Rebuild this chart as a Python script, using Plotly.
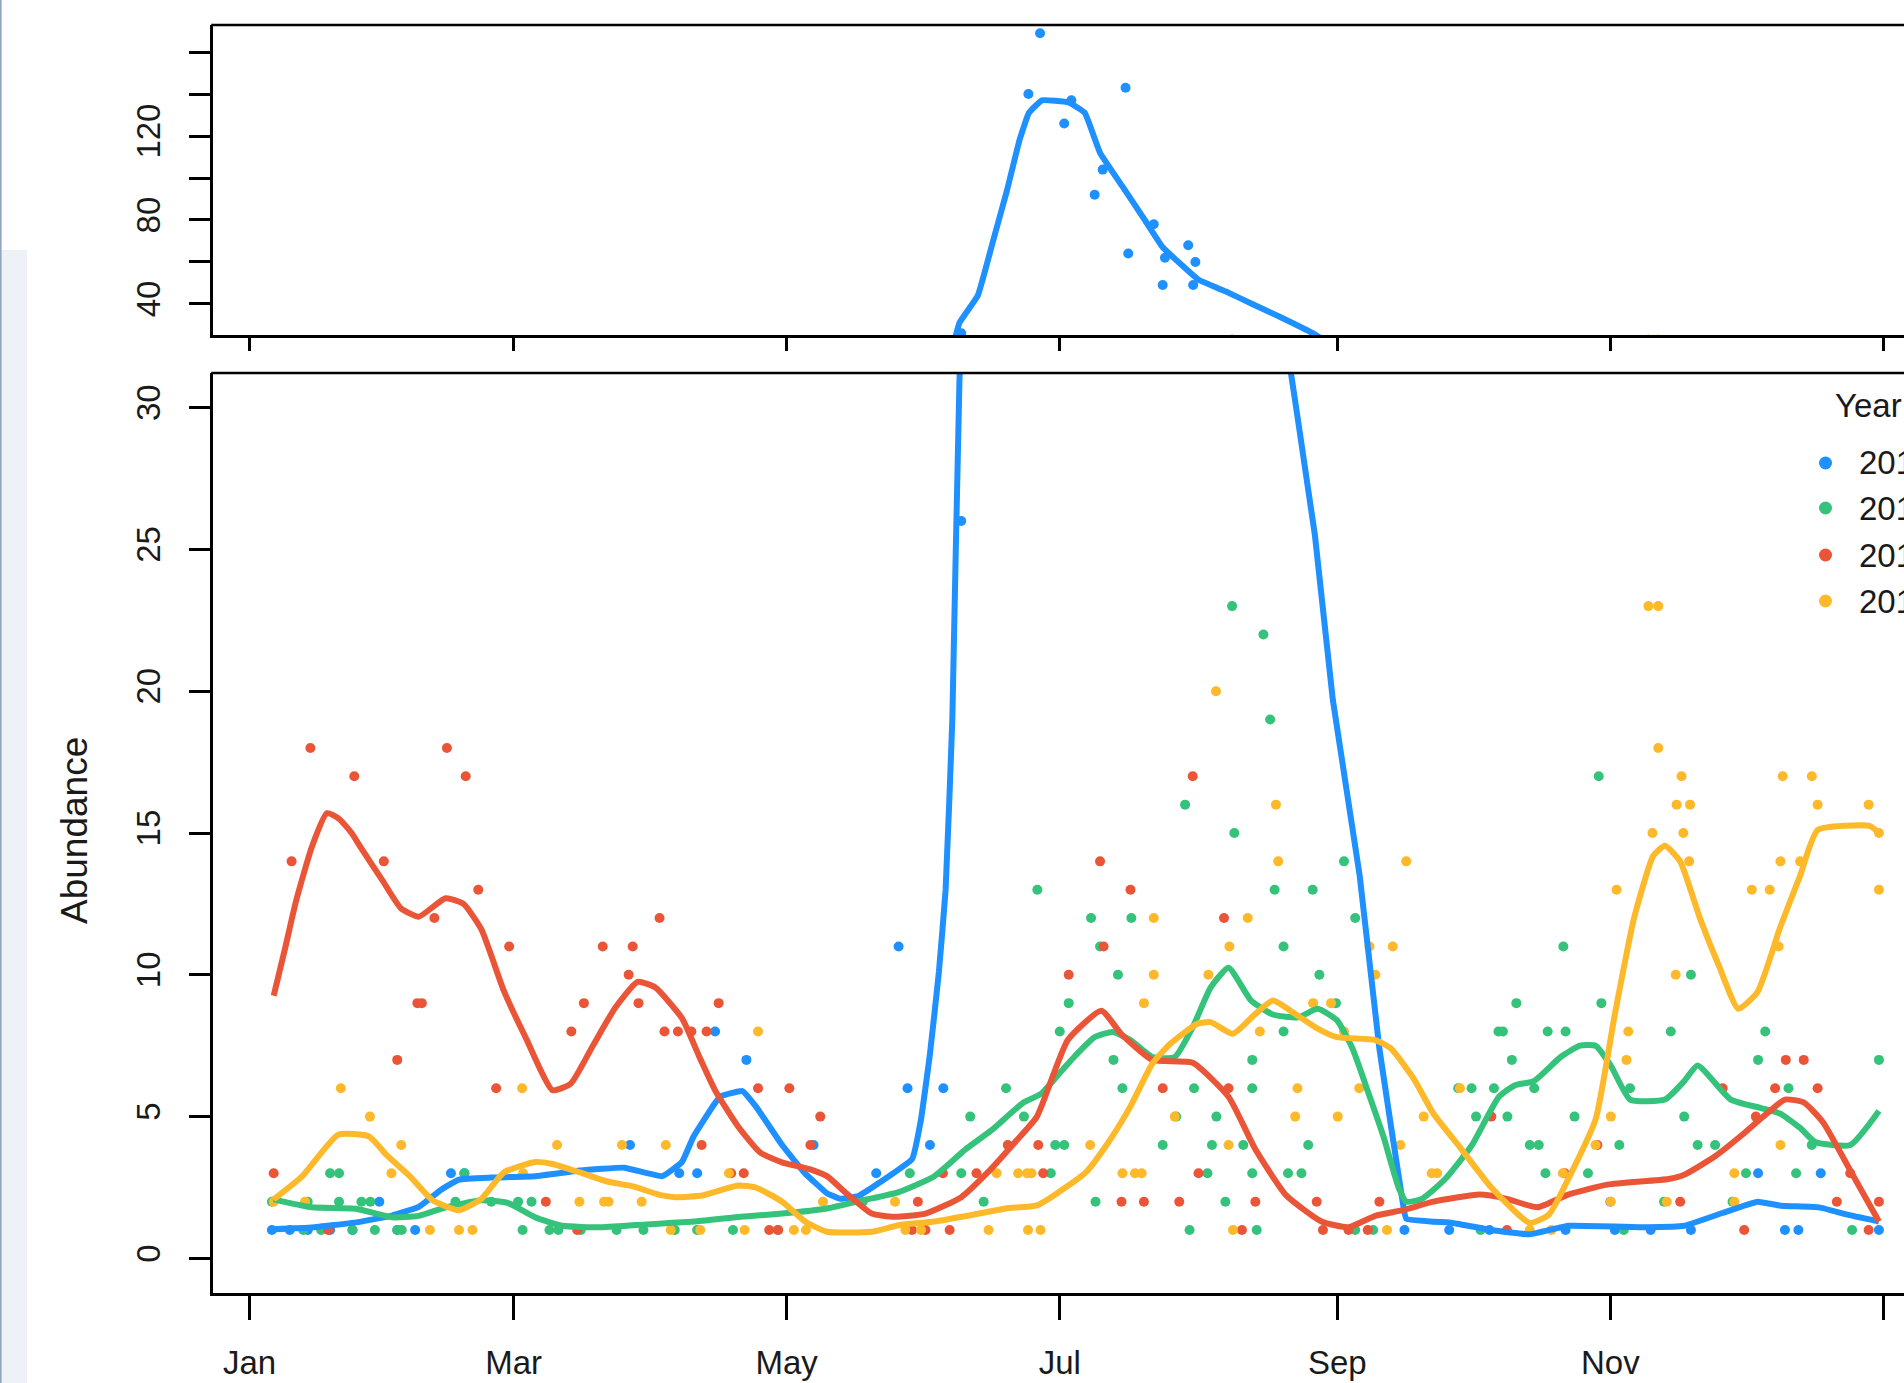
import pandas as pd
import plotly.graph_objects as go

W, H = 1904, 1383
START = pd.Timestamp("2015-01-01")

YEARS = ["2015", "2016", "2017", "2018"]
COLORS = ["#1E90FF", "#35C27A", "#EA5538", "#FDB92A"]
MONTH_TICKS = ["2015-01-01", "2015-03-01", "2015-05-01", "2015-07-01",
               "2015-09-01", "2015-11-01", "2016-01-01"]
MONTH_LABELS = ["Jan", "Mar", "May", "Jul", "Sep", "Nov", "Jan"]
LOW_TICKS = [0, 5, 10, 15, 20, 25, 30]
HIGH_TICKS = [40, 60, 80, 100, 120, 140, 160]
HIGH_LABELS = ["40", "", "80", "", "120", "", ""]

# observed abundance: (day of year, count)
blue_points = [(5, 1), (9, 1), (13, 1), (18, 1), (23, 1), (29, 2), (33, 1), (37, 1), (45, 3), (48, 3),
               (85, 4), (96, 3), (100, 3), (104, 8), (111, 7), (126, 4), (140, 3), (145, 11), (147, 6),
               (152, 4), (155, 6), (159, 26), (174, 140), (176.6, 169), (182, 126), (183.6, 137),
               (188.8, 92), (190.6, 104), (195.7, 143), (196.3, 64), (202, 78), (204, 49), (204.5, 62),
               (209.7, 68), (210.8, 49), (211.3, 60), (258, 1), (268, 1), (277, 1), (294, 1), (304, 2),
               (305, 1), (313, 1), (322, 1), (337, 3), (343, 1), (346, 1), (351, 3), (364, 1)]
green_points = [(5, 2), (12, 1), (13, 2), (16, 1), (18, 3), (20, 3), (20, 2), (23, 1), (25, 2), (27, 2),
                (28, 1), (33, 1), (34, 1), (46, 2), (48, 3), (54, 2), (60, 2), (61, 1), (63, 2), (67, 1),
                (69, 1), (74, 1), (82, 1), (88, 1), (95, 1), (100, 1), (108, 1), (118, 1), (137, 2),
                (147.5, 3), (159, 3), (161, 5), (164, 2), (169, 6), (173, 5), (176, 13), (179, 3),
                (180, 4), (182, 4), (181, 8), (183, 9), (188, 12), (189, 2), (190, 11), (193, 7),
                (194, 10), (195, 6), (197, 12), (204, 4), (207, 5), (209, 16), (210, 1), (211, 6),
                (214, 3), (215, 4), (216, 5), (218, 2), (219.5, 23), (220, 15), (222, 4), (224, 7),
                (224, 6), (224, 3), (225, 1), (226.5, 22), (228, 19), (229, 13), (231, 8), (231, 11),
                (232, 3), (235, 3), (236.5, 4), (237.5, 13), (239, 10), (242.7, 9), (244.5, 14),
                (247, 12), (247, 1), (251, 1), (270, 6), (273, 6), (274, 5), (275, 1), (278, 6),
                (279, 8), (280, 8), (281, 5), (282, 7), (283, 9), (286, 4), (287, 6), (288, 4),
                (289.5, 3), (290, 8), (293.5, 11), (294, 8), (296, 5), (299, 3), (301.4, 17), (302, 9),
                (306, 4), (307, 1), (308.4, 6), (316, 2), (317.5, 8), (320.5, 5), (322, 10), (323.5, 4),
                (327.4, 4), (331.3, 2), (334.3, 3), (337, 7), (338.6, 8), (343.8, 6), (345.5, 3),
                (349, 4), (358, 1), (364, 7)]
red_points = [(5.4, 3), (9.4, 14), (13.6, 18), (17.6, 1), (23.4, 17), (30, 14), (33, 7), (37.5, 9),
              (38.5, 9), (41.3, 12), (44.1, 18), (48.3, 17), (51.1, 13), (55.1, 6), (58, 11), (66.2, 2),
              (71.9, 8), (73.2, 1), (74.7, 9), (78.9, 11), (84.7, 10), (85.6, 11), (86.9, 9), (91.6, 12),
              (92.7, 8), (95.7, 8), (98.7, 8), (101, 4), (102.1, 8), (104.8, 9), (107.6, 3), (110.4, 3),
              (113.6, 6), (116.1, 1), (118.1, 1), (120.6, 6), (125.3, 4), (127.5, 5), (148, 1),
              (149.3, 2), (151, 1), (154.9, 3), (156.4, 1), (162.4, 3), (169.4, 4), (176.2, 4),
              (177.3, 3), (183, 10), (190, 14), (190.8, 11), (194.8, 2), (196.8, 13), (199.8, 2),
              (204, 6), (207.7, 2), (210.7, 17), (212, 3), (217.7, 12), (218.7, 6), (221.7, 1),
              (224.7, 2), (238.4, 2), (239.8, 1), (245.5, 1), (249.8, 1), (252.4, 2), (277.4, 5),
              (280.9, 1), (293.8, 3), (301.1, 4), (319.6, 2), (329.1, 6), (333.9, 1), (336.5, 5),
              (340.8, 6), (343.2, 7), (347.2, 7), (350.3, 6), (354.6, 2), (357.6, 3), (361.7, 1), (364, 2)]
yellow_points = [(5.4, 2), (12.4, 2), (20.4, 6), (26.9, 5), (31.7, 3), (33.9, 4), (40.3, 1), (46.8, 1),
                 (49.8, 1), (60.9, 6), (61.1, 3), (68.7, 4), (73.7, 2), (79.2, 2), (80.2, 2), (83.2, 4),
                 (87.6, 2), (93, 4), (94.1, 1), (100.7, 1), (107.1, 3), (110.6, 1), (113.6, 8),
                 (121.6, 1), (124.3, 1), (128.1, 2), (144.2, 2), (146.5, 1), (150, 1), (165.1, 1),
                 (166.9, 3), (171.7, 3), (173.7, 3), (173.9, 1), (174.7, 3), (176.7, 1), (187.8, 4),
                 (195, 3), (197.8, 3), (199.3, 3), (199.8, 9), (202, 12), (202, 10), (206.7, 5),
                 (214.2, 10), (215.9, 20), (218.7, 4), (218.9, 11), (219.7, 1), (223, 12), (225.7, 8),
                 (229.3, 16), (229.8, 14), (233.6, 5), (234.1, 6), (237.6, 9), (241.6, 9), (243.1, 5),
                 (244.5, 8), (247.9, 6), (250.2, 11), (251.5, 10), (254.1, 1), (255.4, 11), (257.1, 4),
                 (258.4, 14), (262.3, 5), (264.1, 3), (265.3, 3), (270.4, 6), (286, 1), (290.8, 1),
                 (293.4, 3), (300.7, 4), (304.1, 5), (304.1, 2), (305.4, 13), (307.6, 7), (308, 8),
                 (312.5, 23), (314.7, 23), (313.4, 15), (314.7, 18), (316.6, 2), (318.6, 10),
                 (318.8, 16), (319.9, 17), (320.3, 15), (321.6, 14), (321.8, 16), (331.7, 3),
                 (331.7, 2), (335.6, 13), (339.6, 13), (341.6, 11), (342, 4), (342, 14), (342.5, 17),
                 (346.4, 14), (349, 17), (350.3, 16), (361.7, 16), (364, 15), (364, 13)]

# smoothed trend per year: (day of year, fitted abundance)
blue_trend = [(5.4, 1.03), (13.9, 1.09), (23.8, 1.27), (31.8, 1.51), (37.8, 1.82), (42.8, 2.42),
              (46.8, 2.78), (53.8, 2.85), (63.8, 2.9), (73.8, 3.1), (83.7, 3.2), (92.2, 2.9), (96.6, 3.4),
              (99.2, 4.3), (105.1, 5.7), (110.1, 5.9), (113.1, 5.36), (119.1, 3.97), (124.1, 3.0),
              (129, 2.3), (132, 2.1), (136, 2.2), (141, 2.7), (148, 3.5), (150, 4.9), (152, 7.2),
              (154, 10.1), (155.5, 13), (157, 19), (158.6, 31), (162.7, 44), (166.1, 70), (169.2, 94),
              (172, 118), (174.1, 131), (177, 137), (183, 136), (186.6, 131), (190, 112), (195, 96),
              (200, 80), (204, 67), (208, 59), (212, 51.5), (218, 46), (224, 40), (230, 34),
              (238, 25.5), (242, 19.7), (248, 13.5), (252.4, 7.4), (257.6, 2.0), (258.4, 1.4),
              (268.8, 1.25), (277.4, 1.0), (286, 0.85), (294.7, 1.15), (312, 1.1), (320.5, 1.15),
              (329, 1.6), (336.9, 2.0), (342, 1.86), (350.7, 1.8), (356.7, 1.55), (364, 1.3)]
green_trend = [(5.4, 2.08), (13.9, 1.8), (23.8, 1.75), (31.8, 1.45), (37.8, 1.5), (43.8, 1.8),
               (51.8, 2.05), (57.8, 1.95), (63.8, 1.45), (69.8, 1.15), (78.7, 1.1), (88.7, 1.2),
               (99.2, 1.3), (109.1, 1.46), (119, 1.58), (129, 1.76), (137, 2.05), (145, 2.34), (153, 2.9),
               (160, 3.85), (166, 4.55), (172.9, 5.5), (176.8, 5.8), (180.8, 6.5), (184.8, 7.2),
               (188.8, 7.8), (192.8, 7.98), (196.8, 7.7), (201.7, 7.1), (206.7, 7.1), (210.7, 8.15),
               (214.7, 9.55), (218.7, 10.25), (223.7, 9.1), (228.6, 8.6), (234.3, 8.5), (238.6, 8.8),
               (242.9, 8.4), (246.4, 7.4), (249.8, 5.9), (253.3, 4.3), (256.7, 2.5), (258.4, 2.0),
               (261.9, 2.1), (267.1, 2.8), (273.1, 4.0), (279.1, 5.7), (282.6, 6.1), (286.9, 6.25),
               (292.9, 7.1), (297.2, 7.5), (300.7, 7.5), (304.1, 6.8), (308.4, 5.6), (316.2, 5.6),
               (320.5, 6.25), (323.5, 6.8), (330.9, 5.6), (337.7, 5.3), (342, 5.1), (346.4, 4.6),
               (349.8, 4.1), (357.6, 4.0), (364, 5.2)]
red_trend = [(5.4, 9.26), (7.9, 10.9), (10.4, 12.6), (13.9, 14.5), (17.3, 15.7), (20, 15.5), (22.8, 15.0),
             (24.8, 14.5), (29.8, 13.3), (33.8, 12.35), (37.8, 12.05), (43.8, 12.7), (47.8, 12.5),
             (51.8, 11.6), (56.8, 9.44), (61.8, 7.75), (67.7, 5.93), (71.8, 6.17), (76.7, 7.5),
             (81.7, 8.84), (86.7, 9.75), (90.6, 9.56), (96.6, 8.47), (100.4, 7.14), (104.1, 5.9),
             (109.1, 4.66), (114.1, 3.73), (119.1, 3.38), (125.1, 3.15), (129, 2.9), (133, 2.34),
             (139, 1.58), (144, 1.47), (151, 1.58), (159, 2.16), (164.9, 3.03), (170.9, 4.08),
             (175.9, 5.0), (182.8, 7.7), (190.3, 8.73), (194.8, 7.9), (201.7, 7.0), (210.7, 6.9),
             (218.7, 5.7), (224.7, 3.85), (231.6, 2.22), (239.5, 1.3), (245.5, 1.1), (251.5, 1.5),
             (257.6, 1.7), (264.5, 2.0), (274.8, 2.25), (280.9, 2.1), (287.7, 1.8), (294.6, 2.25),
             (303.3, 2.6), (317, 2.8), (320.5, 2.95), (327.4, 3.6), (333.4, 4.35), (337.8, 4.95),
             (343, 5.6), (347.2, 5.5), (351.5, 4.8), (357.6, 3.1), (364, 1.3)]
yellow_trend = [(5.4, 2.08), (11.8, 2.9), (19.8, 4.36), (26.7, 4.3), (30.7, 3.63), (35.8, 2.9),
                (40.8, 2.06), (46.8, 1.7), (51.8, 2.1), (56.8, 3.03), (63.8, 3.4), (67.7, 3.33),
                (73.8, 3.03), (79.7, 2.72), (85.7, 2.54), (91.6, 2.24), (95.2, 2.16), (101.2, 2.22),
                (109.1, 2.57), (113.1, 2.5), (119, 2.0), (124.1, 1.3), (129, 0.94), (139, 0.94),
                (145, 1.17), (153, 1.3), (161, 1.52), (168.9, 1.76), (175.9, 1.87), (180.8, 2.34),
                (186.8, 3.03), (191.8, 4.08), (196.8, 5.36), (201.7, 6.87), (205.7, 7.57), (211.7, 8.27),
                (214.7, 8.33), (219.7, 7.92), (224.7, 8.62), (228.6, 9.09), (233.6, 8.62), (238.6, 8.1),
                (242.9, 7.8), (251.5, 7.7), (255, 7.4), (260.2, 6.3), (264.5, 5.1), (270.5, 3.9),
                (277.4, 2.5), (286, 1.25), (290.3, 1.55), (294.6, 2.8), (300.7, 4.9), (305, 8.6),
                (309.3, 12), (313.6, 14.2), (316.2, 14.55), (319.6, 14.0), (324, 12), (328.3, 10.3),
                (332.6, 8.8), (336.9, 9.4), (342, 11.7), (346.4, 13.5), (350.3, 15.1), (361.9, 15.25),
                (364, 15.0)]

POINTS = [blue_points, green_points, red_points, yellow_points]
TRENDS = [blue_trend, green_trend, red_trend, yellow_trend]
SMOOTHING = [0.3, 0.5, 0.5, 0.5]


def to_dates(days):
    return [START + pd.Timedelta(days=float(d)) for d in days]


def fx(px):
    return px / W


def fy(px):
    return 1 - px / H


FONT = "Liberation Sans, Arial, sans-serif"
TXT = "#1a1a1a"
LEFT = 212.5
LOW_TOP, LOW_BOT = 373, 1293
HIGH_TOP, HIGH_BOT = 25, 335
X_RANGE = to_dates([-8.27, 369.6])

fig = go.Figure()
for axes in [("x", "y"), ("x2", "y2")]:
    for pts, col in zip(POINTS, COLORS):
        d, v = zip(*pts)
        fig.add_trace(go.Scatter(x=to_dates(d), y=list(v), mode="markers",
                                 marker=dict(color=col, size=10, line=dict(width=0)),
                                 xaxis=axes[0], yaxis=axes[1], showlegend=False, hoverinfo="skip"))
    for tr, col, sm in zip(TRENDS, COLORS, SMOOTHING):
        d, v = zip(*tr)
        fig.add_trace(go.Scatter(x=to_dates(d), y=list(v), mode="lines",
                                 line=dict(color=col, width=6, shape="spline", smoothing=sm),
                                 xaxis=axes[0], yaxis=axes[1], showlegend=False, hoverinfo="skip"))

axis_common = dict(showgrid=False, zeroline=False, showline=True, linecolor="black", linewidth=2.7,
                   ticks="outside", tickcolor="black", tickwidth=2.7,
                   tickfont=dict(family=FONT, size=33, color=TXT))

fig.update_layout(
    width=W, height=H, margin=dict(l=0, r=0, t=0, b=0),
    paper_bgcolor="white", plot_bgcolor="white", hovermode=False, showlegend=False,
    xaxis=dict(domain=[fx(LEFT), 1], anchor="y", type="date", range=X_RANGE,
               tickvals=MONTH_TICKS, ticktext=MONTH_LABELS, ticklen=24, ticklabelstandoff=15,
               **axis_common),
    yaxis=dict(domain=[fy(LOW_BOT), fy(LOW_TOP)], anchor="x", range=[-1.22, 31.22],
               tickvals=LOW_TICKS, ticktext=[str(t) for t in LOW_TICKS], tickangle=-90,
               ticklen=21, ticklabelstandoff=15, **axis_common),
    xaxis2=dict(domain=[fx(LEFT), 1], anchor="y2", type="date", range=X_RANGE,
                tickvals=MONTH_TICKS, showticklabels=False, ticklen=13, **axis_common),
    yaxis2=dict(domain=[fy(HIGH_BOT), fy(HIGH_TOP)], anchor="x2", range=[25.2, 172.9],
                tickvals=HIGH_TICKS, ticktext=HIGH_LABELS, tickangle=-90,
                ticklen=21, ticklabelstandoff=15, **axis_common),
)

shapes = []
# top borders of both panels (the right border lies outside the page)
for top in (LOW_TOP, HIGH_TOP):
    shapes.append(dict(type="line", xref="paper", yref="paper", x0=fx(LEFT - 1.3), x1=1.0,
                       y0=fy(top), y1=fy(top), line=dict(color="black", width=2.7)))
# window frame strip on the left
shapes.append(dict(type="rect", xref="paper", yref="paper", x0=0, x1=fx(27), y0=0, y1=fy(250),
                   fillcolor="#EEF2F6", line=dict(width=0), layer="below"))
shapes.append(dict(type="line", xref="paper", yref="paper", x0=fx(0.8), x1=fx(0.8), y0=0, y1=1,
                   line=dict(color="#8EA6BF", width=1.6)))

# legend (cut by the right page edge)
LEG_MARK_X, LEG_TEXT_X = 1825.5, 1856.6
LEG_ROWS = [463, 508, 555, 601]
annotations = [dict(text="Abundance", x=fx(74), y=fy(831), xref="paper", yref="paper",
                    textangle=-90, showarrow=False, xanchor="center", yanchor="middle",
                    font=dict(family=FONT, size=37, color=TXT)),
               dict(text="Year", x=fx(1833), y=fy(405), xref="paper", yref="paper",
                    showarrow=False, xanchor="left", yanchor="middle",
                    font=dict(family=FONT, size=33, color=TXT))]
for yr, col, row in zip(YEARS, COLORS, LEG_ROWS):
    shapes.append(dict(type="circle", xref="paper", yref="paper", xsizemode="pixel", ysizemode="pixel",
                       xanchor=fx(LEG_MARK_X), yanchor=fy(row), x0=-6.5, x1=6.5, y0=-6.5, y1=6.5,
                       fillcolor=col, line=dict(width=0)))
    annotations.append(dict(text=yr, x=fx(LEG_TEXT_X), y=fy(row), xref="paper", yref="paper",
                            showarrow=False, xanchor="left", yanchor="middle",
                            font=dict(family=FONT, size=33, color=TXT)))

fig.update_layout(shapes=shapes, annotations=annotations)
fig.write_html("out.html", config={"displayModeBar": False},
               post_script="document.body.style.margin='0px';document.body.style.overflow='hidden';")
